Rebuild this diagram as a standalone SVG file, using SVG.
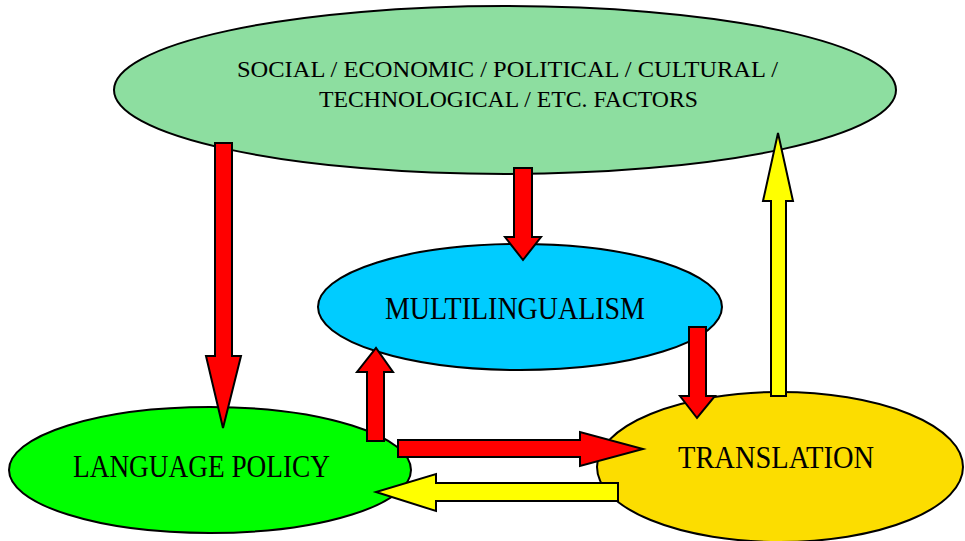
<svg xmlns="http://www.w3.org/2000/svg" width="965" height="541" viewBox="0 0 965 541">
<style>
.node ellipse{stroke:#000;stroke-width:2}
.lbl{font-family:"Liberation Serif","DejaVu Serif",serif;fill:#000;text-anchor:start}
.big{font-size:31px}
.small{font-size:23px}
.arr polygon{stroke:#000;stroke-width:2;stroke-linejoin:miter}
.red{fill:#FF0000}
.yel{fill:#FFFF00}
</style>
<rect width="965" height="541" fill="#fff"/>
<g id="factors" class="node">
<ellipse cx="505" cy="90" rx="391" ry="84" fill="#8DDEA0"/>
<text class="lbl small" x="237" y="77" textLength="541" lengthAdjust="spacingAndGlyphs">SOCIAL / ECONOMIC / POLITICAL / CULTURAL /</text>
<text class="lbl small" x="319" y="107" textLength="379" lengthAdjust="spacingAndGlyphs">TECHNOLOGICAL / ETC. FACTORS</text>
</g>
<g id="multilingualism" class="node">
<ellipse cx="520" cy="307" rx="202" ry="63" fill="#00CCFF"/>
<text class="lbl big" x="385" y="319" textLength="260" lengthAdjust="spacingAndGlyphs">MULTILINGUALISM</text>
</g>
<g id="language-policy" class="node">
<ellipse cx="210" cy="470" rx="201" ry="63" fill="#00FF00"/>
<text class="lbl big" x="73" y="477" textLength="257" lengthAdjust="spacingAndGlyphs">LANGUAGE POLICY</text>
</g>
<g id="translation" class="node">
<ellipse cx="780" cy="467" rx="183" ry="75" fill="#FCDD00"/>
<text class="lbl big" x="678" y="468" textLength="196" lengthAdjust="spacingAndGlyphs">TRANSLATION</text>
</g>
<g id="connectors" class="arr">
<polygon class="red" points="215,143 232,143 232,356 241,356 223,428 206,356 215,356"/>
<polygon class="red" points="514,168 532,168 532,237 541,237 523,260 505,237 514,237"/>
<polygon class="red" points="689,327 706,327 706,396 715,396 697,418 680,396 689,396"/>
<polygon class="red" points="367,441 384,441 384,372 393,372 376,348 357,372 367,372"/>
<polygon class="red" points="398,440 580,440 580,432 643,449 580,466 580,457 398,457"/>
<polygon class="yel" points="618,483 436,483 436,474 376,492 436,511 436,501 618,501"/>
<polygon class="yel" points="771,396 786,396 786,201 793,201 778,133 763,201 771,201"/>
</g>
</svg>
